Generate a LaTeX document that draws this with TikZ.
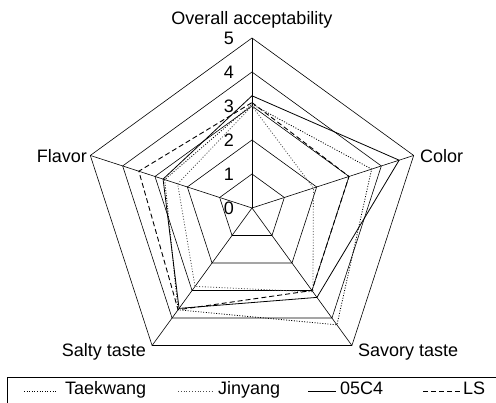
\documentclass[tikz,border=0pt]{standalone}
\usepackage{fontspec}
\setmainfont{Liberation Sans}
\begin{document}
\begin{tikzpicture}[x=1pt,y=1pt,
  gridline/.style={line width=0.6pt, black},
  lbl/.style={font=\fontsize{18}{20}\selectfont, inner sep=0pt},
  tk/.style={line width=0.8pt, dash pattern=on 1pt off 1.6pt},
  jy/.style={line width=0.8pt, black!70, dash pattern=on 1pt off 1.8pt},
  cf/.style={line width=0.8pt},
  ls/.style={line width=0.9pt, dash pattern=on 5pt off 3pt}]
\useasboundingbox (0,0) rectangle (496,403);
\coordinate (C) at (252,195);
\begin{scope}[shift={(C)}]
  \foreach \r in {1,...,5}
    \draw[gridline] (90:34*\r) -- (18:34*\r) -- (-54:34*\r) -- (-126:34*\r) -- (162:34*\r) -- cycle;
  \foreach \a/\n in {90/ov,18/co,-54/sv,-126/sl,162/fl}
    \coordinate (\n) at (\a:170);
  \foreach \n in {ov,co,sv,sl,fl}
    \draw[gridline] (0,0) -- (\n);
  % series
  \draw[tk] (90:34*3.05) -- (18:34*3.7) -- (-54:34*4.25) -- (-126:34*3.7) -- (162:34*2.7) -- cycle;
  \draw[jy] (90:34*3.0) -- (18:34*1.9) -- (-54:34*3.05) -- (-126:34*2.85) -- (162:34*2.3) -- cycle;
  \draw[cf] (90:34*3.3) -- (18:34*4.55) -- (-54:34*3.25) -- (-126:34*3.65) -- (162:34*2.75) -- cycle;
  \draw[ls] (90:34*3.1) -- (18:34*3.0) -- (-54:34*3.0) -- (-126:34*3.7) -- (162:34*3.5) -- cycle;
\end{scope}
% scale numbers
\foreach \k in {0,...,5}
  \node[lbl, anchor=east] (num\k) at (234,195+34*\k) {\k};
% axis labels
\node[lbl, anchor=base] (tOv) at (252,378) {Overall acceptability};
\node[lbl, anchor=base west] (tCo) at (420,240) {Color};
\node[lbl, anchor=base east] (tFl) at (87,240) {Flavor};
\node[lbl, anchor=base east] (tSl) at (146,46) {Salty taste};
\node[lbl, anchor=base west] (tSv) at (358,46) {Savory taste};
% legend
\draw[line width=0.8pt] (7,-10) rectangle (510,26);
\coordinate (a1) at (24,12); \coordinate (b1) at (57,12);
\coordinate (a2) at (178,12); \coordinate (b2) at (213,12);
\coordinate (a3) at (308,12); \coordinate (b3) at (336,12);
\coordinate (a4) at (423,12); \coordinate (b4) at (460,12);
\draw[tk] (a1) -- (b1);
\draw[jy] (a2) -- (b2);
\draw[cf] (a3) -- (b3);
\draw[ls] (a4) -- (b4);
\node[lbl, anchor=base west] (l1) at (65,8) {Taekwang};
\node[lbl, anchor=base west] (l2) at (218,8) {Jinyang};
\node[lbl, anchor=base west] (l3) at (340,8) {05C4};
\node[lbl, anchor=base west] (l4) at (463,8) {LS};
\end{tikzpicture}
\end{document}
